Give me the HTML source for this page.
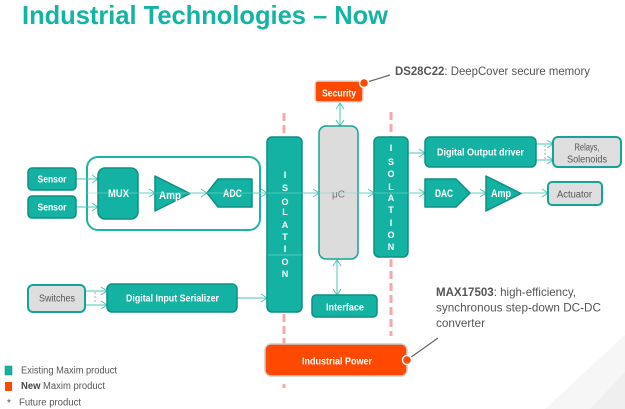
<!DOCTYPE html>
<html><head><meta charset="utf-8"><style>
html,body{margin:0;padding:0;background:#fff;}
svg{display:block;}
text{font-family:"Liberation Sans",Arial,sans-serif;}
</style></head><body>
<svg width="625" height="409" viewBox="0 0 625 409" xmlns="http://www.w3.org/2000/svg">
<defs>
<marker id="ah" markerUnits="userSpaceOnUse" markerWidth="8" markerHeight="10" refX="7" refY="4.5" orient="auto">
<path d="M1,0.5 L7,4.5 L1,8.5" fill="none" stroke="#4cc6ba" stroke-width="1"/>
</marker>
<marker id="as" markerUnits="userSpaceOnUse" markerWidth="8" markerHeight="10" refX="7" refY="4.5" orient="auto-start-reverse">
<path d="M1,0.5 L7,4.5 L1,8.5" fill="none" stroke="#4cc6ba" stroke-width="1"/>
</marker>
</defs>

<!-- background faint shapes -->
<polygon points="545,409 625,335 625,409" fill="#f6f6f6"/>
<polygon points="590,409 625,372 625,409" fill="#efefef"/>

<!-- Title -->
<text x="22" y="24" font-size="26" font-weight="bold" fill="#14b4a4" textLength="366" lengthAdjust="spacingAndGlyphs">Industrial Technologies – Now</text>

<!-- red dashed lines -->
<g stroke="#f6a9a9" stroke-width="3" stroke-dasharray="8,4" fill="none">
<line x1="284" y1="113" x2="284" y2="137"/>
<line x1="284" y1="314" x2="284" y2="344"/>
<line x1="284" y1="384" x2="284" y2="388"/>
<line x1="391" y1="112" x2="391" y2="137"/>
<line x1="391" y1="259" x2="391" y2="336"/>
</g>

<!-- group box -->
<rect x="87" y="157" width="173" height="73" rx="11" fill="none" stroke="#1bb5a5" stroke-width="2"/>

<!-- connectors -->
<g stroke="#4cc6ba" stroke-width="1" fill="none">
<line x1="76" y1="179" x2="98" y2="179" marker-end="url(#ah)"/>
<line x1="76" y1="207" x2="98" y2="207" marker-end="url(#ah)"/>
<line x1="138" y1="193" x2="155" y2="193" marker-end="url(#ah)"/>
<line x1="190" y1="193" x2="207" y2="193" marker-end="url(#ah)"/>
<line x1="252" y1="193" x2="267" y2="193" marker-end="url(#ah)"/>
<line x1="302" y1="193" x2="319" y2="193" marker-end="url(#ah)"/>
<line x1="358" y1="193" x2="374" y2="193" marker-end="url(#ah)"/>
<line x1="408" y1="193" x2="425" y2="193" marker-end="url(#ah)"/>
<line x1="470" y1="193" x2="486" y2="193" marker-end="url(#ah)"/>
<line x1="521" y1="193" x2="548" y2="193" marker-end="url(#ah)"/>
<line x1="408" y1="153" x2="425" y2="153" marker-end="url(#ah)"/>
<line x1="536" y1="144" x2="553" y2="144" marker-end="url(#ah)"/>
<line x1="536" y1="160" x2="553" y2="160" marker-end="url(#ah)"/>
<line x1="85" y1="291" x2="107" y2="291" marker-end="url(#ah)"/>
<line x1="85" y1="305" x2="107" y2="305" marker-end="url(#ah)"/>
<line x1="237" y1="298" x2="267" y2="298" marker-end="url(#ah)"/>
<line x1="340" y1="103" x2="340" y2="126" marker-start="url(#as)" marker-end="url(#ah)"/>
<line x1="337" y1="260" x2="337" y2="295" marker-start="url(#as)" marker-end="url(#ah)"/>
</g>
<g stroke="#aaa" stroke-width="1" stroke-dasharray="2,2">
<line x1="545" y1="145" x2="545" y2="159"/>
<line x1="95" y1="292" x2="95" y2="304"/>
</g>

<!-- Sensors -->
<rect x="28" y="168" width="48" height="22" rx="4" fill="#14b2a2" stroke="#0e8f84" stroke-width="1.5"/>
<rect x="28" y="196" width="48" height="22" rx="4" fill="#14b2a2" stroke="#0e8f84" stroke-width="1.5"/>
<text x="52" y="182.5" font-size="10" font-weight="bold" fill="#fff" text-anchor="middle" textLength="29" lengthAdjust="spacingAndGlyphs">Sensor</text>
<text x="52" y="210.5" font-size="10" font-weight="bold" fill="#fff" text-anchor="middle" textLength="29" lengthAdjust="spacingAndGlyphs">Sensor</text>

<!-- MUX -->
<rect x="98" y="168" width="40" height="51" rx="7" fill="#14b2a2" stroke="#0e8f84" stroke-width="1.5"/>
<text x="118.5" y="197" font-size="11" font-weight="bold" fill="#fff" text-anchor="middle" textLength="21" lengthAdjust="spacingAndGlyphs">MUX</text>

<!-- Amp1 -->
<polygon points="155,176 190,193.5 155,211" fill="#14b2a2" stroke="#0e8f84" stroke-width="1.5" stroke-linejoin="round"/>
<text x="170" y="199" font-size="11" font-weight="bold" fill="#fff" text-anchor="middle" textLength="22" lengthAdjust="spacingAndGlyphs">Amp</text>

<!-- ADC -->
<polygon points="207,193 218,179 252,179 252,207 218,207" fill="#14b2a2" stroke="#0e8f84" stroke-width="1.5" stroke-linejoin="round"/>
<text x="232.5" y="197" font-size="11" font-weight="bold" fill="#fff" text-anchor="middle" textLength="19" lengthAdjust="spacingAndGlyphs">ADC</text>

<!-- Isolation 1 -->
<rect x="267" y="137" width="35" height="175" rx="5" fill="#14b2a2" stroke="#0e8f84" stroke-width="1.5"/>
<g font-size="9" font-weight="bold" fill="#fff" text-anchor="middle">
<text x="285" y="178">I</text><text x="285" y="191">S</text><text x="285" y="205">O</text>
<text x="285" y="215">L</text><text x="285" y="228">A</text><text x="285" y="240">T</text>
<text x="285" y="252">I</text><text x="285" y="265">O</text><text x="285" y="277">N</text>
</g>

<!-- uC -->
<rect x="319" y="126" width="39" height="133" rx="7" fill="#dcdcdc" stroke="#14a396" stroke-width="1.5"/>
<text x="338.5" y="197.5" font-size="10" fill="#777" text-anchor="middle">μC</text>

<!-- Isolation 2 -->
<rect x="374" y="137" width="34" height="120" rx="5" fill="#14b2a2" stroke="#0e8f84" stroke-width="1.5"/>
<g font-size="9" font-weight="bold" fill="#fff" text-anchor="middle">
<text x="391" y="151">I</text><text x="391" y="165">S</text><text x="391" y="177">O</text>
<text x="391" y="190">L</text><text x="391" y="201">A</text><text x="391" y="213">T</text>
<text x="391" y="226">I</text><text x="391" y="238">O</text><text x="391" y="250">N</text>
</g>

<!-- faint through-lines -->
<line x1="87" y1="193" x2="605" y2="193" stroke="#7fd8cf" stroke-width="1" opacity="0.55"/>
<line x1="268" y1="255" x2="302" y2="255" stroke="#7fd8cf" stroke-width="1" opacity="0.6"/>

<!-- Security -->
<rect x="315" y="81" width="48" height="21" rx="3" fill="#ff4800" stroke="#dddddd" stroke-width="1.5"/>
<text x="339" y="96.5" font-size="10" font-weight="bold" fill="#fff" text-anchor="middle" textLength="34" lengthAdjust="spacingAndGlyphs">Security</text>
<line x1="364" y1="83" x2="390" y2="75" stroke="#666" stroke-width="1.2"/>
<circle cx="364" cy="83" r="4.5" fill="#ff4800" stroke="#fff" stroke-width="1.5"/>
<text x="395" y="75" font-size="12" fill="#555" textLength="195" lengthAdjust="spacingAndGlyphs"><tspan font-weight="bold">DS28C22</tspan>: DeepCover secure memory</text>

<!-- Digital Output driver -->
<rect x="425" y="137" width="111" height="30" rx="5" fill="#14b2a2" stroke="#0e8f84" stroke-width="1.5"/>
<text x="480.5" y="155.5" font-size="10" font-weight="bold" fill="#fff" text-anchor="middle" textLength="87" lengthAdjust="spacingAndGlyphs">Digital Output driver</text>

<!-- Relays -->
<rect x="553" y="137" width="68" height="30" rx="5" fill="#dedede" stroke="#14a396" stroke-width="2"/>
<text x="587" y="150.5" font-size="10.5" fill="#555" text-anchor="middle" textLength="25" lengthAdjust="spacingAndGlyphs">Relays,</text>
<text x="587" y="162.5" font-size="10.5" fill="#555" text-anchor="middle" textLength="40" lengthAdjust="spacingAndGlyphs">Solenoids</text>

<!-- DAC -->
<polygon points="425,179 456,179 470,193 456,207 425,207" fill="#14b2a2" stroke="#0e8f84" stroke-width="1.5" stroke-linejoin="round"/>
<text x="444" y="197" font-size="11" font-weight="bold" fill="#fff" text-anchor="middle" textLength="18" lengthAdjust="spacingAndGlyphs">DAC</text>

<!-- Amp2 -->
<polygon points="486,176 521,193.5 486,211" fill="#14b2a2" stroke="#0e8f84" stroke-width="1.5" stroke-linejoin="round"/>
<text x="501" y="197" font-size="11" font-weight="bold" fill="#fff" text-anchor="middle" textLength="20" lengthAdjust="spacingAndGlyphs">Amp</text>

<!-- Actuator -->
<rect x="548" y="182" width="54" height="23" rx="4" fill="#dedede" stroke="#14a396" stroke-width="2"/>
<text x="574.5" y="197.5" font-size="10" fill="#555" text-anchor="middle" textLength="35" lengthAdjust="spacingAndGlyphs">Actuator</text>

<!-- Switches -->
<rect x="28" y="285" width="57" height="27" rx="5" fill="#dedede" stroke="#14a396" stroke-width="2"/>
<text x="57" y="301.5" font-size="10" fill="#555" text-anchor="middle" textLength="36" lengthAdjust="spacingAndGlyphs">Switches</text>

<!-- Digital Input Serializer -->
<rect x="107" y="284" width="130" height="28" rx="5" fill="#14b2a2" stroke="#0e8f84" stroke-width="1.5"/>
<text x="172.5" y="301.5" font-size="10" font-weight="bold" fill="#fff" text-anchor="middle" textLength="93" lengthAdjust="spacingAndGlyphs">Digital Input Serializer</text>

<!-- Interface -->
<rect x="312" y="295" width="65" height="22" rx="4" fill="#14b2a2" stroke="#0e8f84" stroke-width="1.5"/>
<text x="345" y="310.5" font-size="10" font-weight="bold" fill="#fff" text-anchor="middle" textLength="38" lengthAdjust="spacingAndGlyphs">Interface</text>

<!-- Industrial Power -->
<rect x="265" y="344" width="142" height="32" rx="6" fill="#ff4800" stroke="#cccccc" stroke-width="1.5"/>
<text x="337" y="364.5" font-size="10" font-weight="bold" fill="#fff" text-anchor="middle" textLength="70" lengthAdjust="spacingAndGlyphs">Industrial Power</text>
<line x1="407" y1="360" x2="438" y2="338" stroke="#666" stroke-width="1.2"/>
<circle cx="407" cy="360" r="4.5" fill="#ff4800" stroke="#fff" stroke-width="1.5"/>

<!-- MAX17503 text -->
<text x="436" y="296" font-size="12" fill="#555" textLength="140" lengthAdjust="spacingAndGlyphs"><tspan font-weight="bold">MAX17503</tspan>: high-efficiency,</text>
<text x="436" y="311.5" font-size="12" fill="#555" textLength="165" lengthAdjust="spacingAndGlyphs">synchronous step-down  DC-DC</text>
<text x="436" y="327" font-size="12" fill="#555" textLength="49" lengthAdjust="spacingAndGlyphs">converter</text>

<!-- Legend -->
<rect x="5" y="366" width="7" height="9" fill="#14b2a2" stroke="#0e8f84" stroke-width="0.5"/>
<text x="21" y="373.5" font-size="10" fill="#555" textLength="96" lengthAdjust="spacingAndGlyphs">Existing Maxim product</text>
<rect x="5" y="382" width="7" height="9" fill="#ff4800"/>
<text x="21" y="389" font-size="10" fill="#555" textLength="84" lengthAdjust="spacingAndGlyphs"><tspan font-weight="bold" fill="#444">New</tspan> Maxim product</text>
<text x="7" y="406" font-size="10" fill="#555">*</text>
<text x="19" y="405.5" font-size="10" fill="#555" textLength="62" lengthAdjust="spacingAndGlyphs">Future product</text>
</svg>
</body></html>
